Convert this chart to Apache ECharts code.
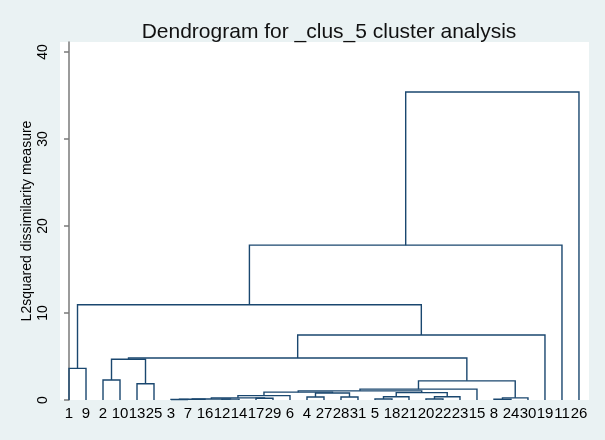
<!DOCTYPE html>
<html>
<head>
<meta charset="utf-8">
<script src="https://cdn.jsdelivr.net/npm/echarts@6/dist/echarts.min.js"></script>
<style>
  html, body { margin: 0; padding: 0; background: #eaf2f3; }
  #main { width: 605px; height: 440px; }
</style>
</head>
<body>
<div id="main"></div>
<script>
// leaf order along the x axis (observation numbers)
var leafOrder = [1, 9, 2, 10, 13, 25, 3, 7, 16, 12, 14, 17, 29, 6, 4, 27, 28, 31,
                 5, 18, 21, 20, 22, 23, 15, 8, 24, 30, 19, 11, 26];

// merges: [left, right, height]; numbers are leaves, 'mN' refers to merge N
var merges = [
  [3, 7, 0.05],          // m0
  ['m0', 16, 0.08],      // m1
  [12, 14, 0.1],         // m2
  ['m1', 'm2', 0.12],    // m3
  [17, 29, 0.2],         // m4
  ['m3', 'm4', 0.25],    // m5
  ['m5', 6, 0.5],        // m6
  [4, 27, 0.35],         // m7
  [28, 31, 0.35],        // m8
  ['m7', 'm8', 0.8],     // m9
  ['m6', 'm9', 0.9],     // m10
  [5, 18, 0.12],         // m11
  ['m11', 21, 0.38],     // m12
  [20, 22, 0.12],        // m13
  ['m13', 23, 0.38],     // m14
  ['m12', 'm14', 0.85],  // m15
  ['m10', 'm15', 1.05],  // m16
  ['m16', 15, 1.25],     // m17
  [8, 24, 0.08],         // m18
  ['m18', 30, 0.25],     // m19
  ['m17', 'm19', 2.2],   // m20
  [2, 10, 2.3],          // m21
  [13, 25, 1.87],        // m22
  ['m21', 'm22', 4.68],  // m23
  ['m23', 'm20', 4.83],  // m24
  ['m24', 19, 7.47],     // m25
  [1, 9, 3.64],          // m26
  ['m26', 'm25', 10.95], // m27
  ['m27', 11, 17.8],     // m28
  ['m28', 26, 35.4]      // m29
];

var yTicks = [0, 10, 20, 30, 40];
var xTicks = leafOrder.map(function (d, i) { return i; });

// layout: leaf position = its index, merge position = midpoint of its children
var nodes = [];
function place(ref) {
  if (typeof ref === 'number') return { x: leafOrder.indexOf(ref), h: 0 };
  return nodes[+ref.slice(1)];
}
var links = merges.map(function (m) {
  var a = place(m[0]), b = place(m[1]);
  nodes.push({ x: (a.x + b.x) / 2, h: m[2] });
  return [a.x, a.h, b.x, b.h, m[2]];
});

var chart = echarts.init(document.getElementById('main'));
chart.setOption({
  backgroundColor: '#eaf2f3',
  animation: false,
  textStyle: { fontFamily: 'Liberation Sans, Arial, sans-serif' },
  title: {
    text: 'Dendrogram for _clus_5 cluster analysis',
    left: 324,
    textAlign: 'center',
    top: 17,
    textStyle: { fontSize: 21, fontWeight: 'normal', color: '#111', fontFamily: 'Liberation Sans, Arial, sans-serif' }
  },
  grid: {
    left: 60, right: 16, top: 42, bottom: 40,
    show: true, backgroundColor: '#fff', borderWidth: 0
  },
  xAxis: {
    type: 'value',
    min: -0.53, max: 30.59,
    axisLine: { show: false },
    axisTick: { show: false },
    splitLine: { show: false },
    axisLabel: {
      customValues: xTicks,
      margin: 6,
      fontSize: 15,
      color: '#000',
      formatter: function (v) { return String(leafOrder[Math.round(v)]); }
    }
  },
  yAxis: {
    type: 'value',
    min: 0, max: 41.15,
    name: 'L2squared dissimilarity measure',
    nameLocation: 'middle',
    nameGap: 26,
    nameMoveOverlap: false,
    nameTextStyle: { fontSize: 14, color: '#000' },
    axisLine: { show: true, lineStyle: { color: '#7a7a7a', width: 1.5 } },
    axisTick: { show: true, customValues: yTicks, length: 5, lineStyle: { color: '#7a7a7a', width: 1.5 } },
    splitLine: { show: false },
    axisLabel: { customValues: yTicks, rotate: 90, margin: 10, fontSize: 14, color: '#000' }
  },
  series: [{
    type: 'custom',
    data: links,
    encode: { x: [0, 2], y: [1, 3, 4] },
    renderItem: function (params, api) {
      var xl = api.value(0), hl = api.value(1), xr = api.value(2), hr = api.value(3), h = api.value(4);
      return {
        type: 'polyline',
        shape: { points: [api.coord([xl, hl]), api.coord([xl, h]), api.coord([xr, h]), api.coord([xr, hr])] },
        style: { stroke: '#1a476f', lineWidth: 1.4, fill: null }
      };
    }
  }]
});
</script>
</body>
</html>
